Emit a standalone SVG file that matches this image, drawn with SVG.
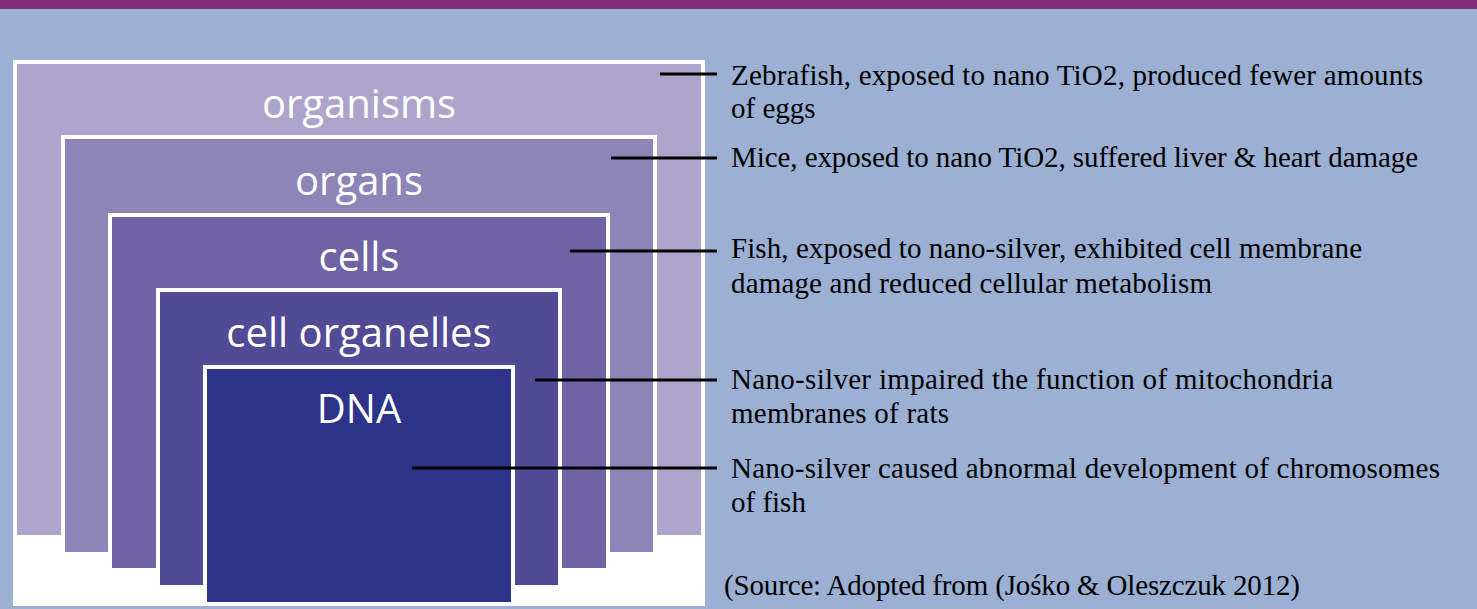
<svg xmlns="http://www.w3.org/2000/svg" width="1477" height="609" viewBox="0 0 1477 609">
  <style>
    .lbl { font-family: "Open Sans", "Noto Sans", sans-serif; font-size: 40px; fill: #ffffff; text-anchor: middle; }
    .note { font-family: "Liberation Serif", "Times New Roman", serif; font-size: 29px; fill: #000000; }
    .conn { stroke: #000000; stroke-width: 3; fill: none; }
    .frame { fill: #ffffff; }
  </style>
  <rect x="0" y="0" width="1477" height="609" fill="#9BB0D2"/>
  <rect x="0" y="0" width="1477" height="9" fill="#832B7A"/>
  <rect x="13" y="60" width="692" height="546" class="frame"/>

  <g id="organisms">
    <rect x="17" y="64" width="684" height="471" fill="#ACA4CB"/>
    <text x="359" y="118" class="lbl">organisms</text>
  </g>
  <g id="organs">
    <rect x="61" y="135" width="596" height="417" class="frame"/>
    <rect x="65" y="139" width="588" height="413" fill="#8D84B8"/>
    <text x="359" y="195" class="lbl">organs</text>
  </g>
  <g id="cells">
    <rect x="108" y="213" width="502" height="355" class="frame"/>
    <rect x="112" y="217" width="494" height="351" fill="#6F63A6"/>
    <text x="359" y="271" class="lbl">cells</text>
  </g>
  <g id="cell-organelles">
    <rect x="156" y="288" width="406" height="297" class="frame"/>
    <rect x="160" y="292" width="398" height="293" fill="#514A95"/>
    <text x="359" y="347" class="lbl">cell organelles</text>
  </g>
  <g id="dna">
    <rect x="203" y="365" width="312" height="237" class="frame"/>
    <rect x="207" y="369" width="304" height="233" fill="#2D3388"/>
    <text x="359" y="423" class="lbl">DNA</text>
  </g>

  <g id="connectors">
    <line x1="660" y1="74" x2="717" y2="74" class="conn"/>
    <line x1="611" y1="158" x2="717" y2="158" class="conn"/>
    <line x1="570" y1="251" x2="717" y2="251" class="conn"/>
    <line x1="535" y1="380" x2="717" y2="380" class="conn"/>
    <line x1="412" y1="468" x2="717" y2="468" class="conn"/>
  </g>

  <g id="notes">
    <text x="731" y="85" class="note" textLength="692" lengthAdjust="spacing">Zebrafish, exposed to nano TiO2, produced fewer amounts</text>
    <text x="731" y="118" class="note">of eggs</text>
    <text x="731" y="167" class="note" textLength="687" lengthAdjust="spacing">Mice, exposed to nano TiO2, suffered liver &amp; heart damage</text>
    <text x="731" y="258" class="note" textLength="631" lengthAdjust="spacing">Fish, exposed to nano-silver, exhibited cell membrane</text>
    <text x="731" y="293" class="note" textLength="481" lengthAdjust="spacing">damage and reduced cellular metabolism</text>
    <text x="731" y="389" class="note" textLength="602" lengthAdjust="spacing">Nano-silver impaired the function of mitochondria</text>
    <text x="731" y="423" class="note" textLength="218" lengthAdjust="spacing">membranes of rats</text>
    <text x="731" y="478" class="note" textLength="709" lengthAdjust="spacing">Nano-silver caused abnormal development of chromosomes</text>
    <text x="731" y="512" class="note">of fish</text>
    <text x="724" y="595" class="note" textLength="576" lengthAdjust="spacing">(Source: Adopted from (Jośko &amp; Oleszczuk 2012)</text>
  </g>
</svg>
